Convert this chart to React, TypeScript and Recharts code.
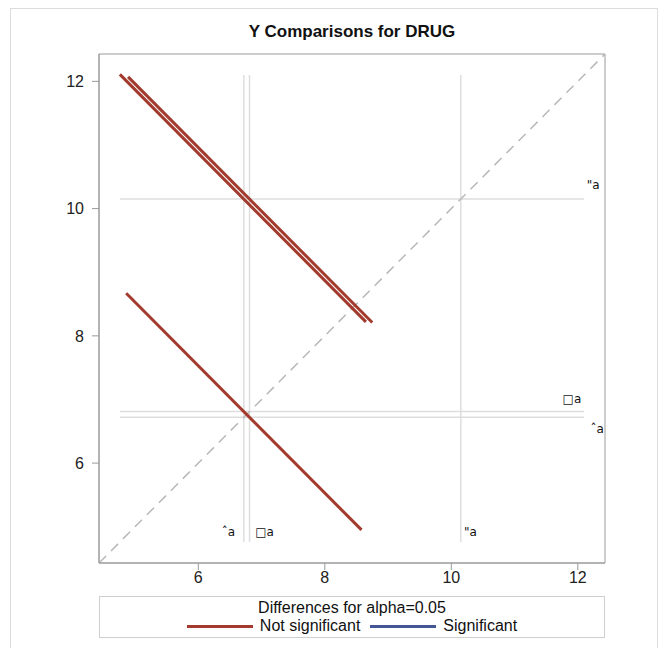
import React from "react";
import {
  ComposedChart,
  Line,
  Scatter,
  XAxis,
  YAxis,
  ReferenceLine,
  ReferenceArea,
} from "recharts";

// Diffogram of DRUG means: axes share the same range
const AXIS_MIN = 4.43;
const AXIS_MAX = 12.43;
const TICKS = [6, 8, 10, 12];

// LS-means of the DRUG levels (reference lines in both directions)
const MEANS = [6.72, 6.81, 10.15];
const REF_LO = 4.76;
const REF_HI = 12.1;

// pairwise comparison segments (slope -1), endpoints
const SEG_A = [
  { x: 4.76, y: 12.11 },
  { x: 8.65, y: 8.22 },
];
const SEG_B = [
  { x: 4.89, y: 12.07 },
  { x: 8.75, y: 8.21 },
];
const SEG_C = [
  { x: 4.86, y: 8.67 },
  { x: 8.58, y: 4.95 },
];
const DIAG = [
  { x: AXIS_MIN, y: AXIS_MIN },
  { x: AXIS_MAX, y: AXIS_MAX },
];

// level labels (the symbols SAS printed for each mean)
const MEAN_LABELS = [
  { x: 6.37, y: 4.85, text: "ˆa" },
  { x: 6.9, y: 4.85, text: "□a" },
  { x: 10.2, y: 4.85, text: '"a' },
  { x: 12.14, y: 10.31, text: '"a' },
  { x: 11.76, y: 6.94, text: "□a" },
  { x: 12.2, y: 6.47, text: "ˆa" },
];

const RED = "#A23A2E";
const BLUE = "#445694";
const FRAME = "#9a9a9a";
const REF = "#dedede";
const FONT = "'Liberation Sans', Arial, sans-serif";

const tick = { fill: "#222", fontSize: 16, fontFamily: FONT };

const LabelShape = (props: any) => (
  <text
    x={props.cx}
    y={props.cy}
    fontSize={12}
    fontFamily="'DejaVu Sans', sans-serif"
    fill="#111"
  >
    {props.payload.text}
  </text>
);

export default function App() {
  return (
    <div
      style={{
        position: "absolute",
        left: 0,
        top: 0,
        width: 660,
        height: 648,
        background: "#fff",
        overflow: "hidden",
        fontFamily: FONT,
      }}
    >
      <div
        style={{
          position: "absolute",
          left: 10,
          top: 8,
          width: 648,
          height: 660,
          border: "1px solid #dcdcdc",
          boxSizing: "border-box",
        }}
      />
      <div
        style={{
          position: "absolute",
          left: 99,
          width: 506,
          top: 22,
          textAlign: "center",
          fontSize: 17,
          fontWeight: 700,
          color: "#111",
        }}
      >
        Y Comparisons for DRUG
      </div>
      <div style={{ position: "absolute", left: 0, top: 0 }}>
        <ComposedChart
          width={660}
          height={648}
          margin={{ top: 54, right: 55, left: 39, bottom: 55 }}
        >
          <XAxis
            dataKey="x"
            type="number"
            domain={[AXIS_MIN, AXIS_MAX]}
            ticks={TICKS}
            allowDataOverflow
            height={30}
            tick={tick}
            tickSize={7}
            tickMargin={2}
            axisLine={{ stroke: FRAME }}
            tickLine={{ stroke: FRAME }}
          />
          <YAxis
            type="number"
            domain={[AXIS_MIN, AXIS_MAX]}
            ticks={TICKS}
            allowDataOverflow
            width={60}
            tick={tick}
            tickSize={7}
            tickMargin={8}
            axisLine={{ stroke: FRAME }}
            tickLine={{ stroke: FRAME }}
          />
          <ReferenceArea
            x1={AXIS_MIN}
            x2={AXIS_MAX}
            y1={AXIS_MIN}
            y2={AXIS_MAX}
            fill="none"
            stroke={FRAME}
            strokeWidth={1}
          />
          {MEANS.map((m) => (
            <ReferenceLine
              key={`v${m}`}
              segment={[
                { x: m, y: REF_LO },
                { x: m, y: REF_HI },
              ]}
              stroke={REF}
              strokeWidth={1.5}
            />
          ))}
          {MEANS.map((m) => (
            <ReferenceLine
              key={`h${m}`}
              segment={[
                { x: REF_LO, y: m },
                { x: REF_HI, y: m },
              ]}
              stroke={REF}
              strokeWidth={1.5}
            />
          ))}
          <Line
            data={DIAG}
            dataKey="y"
            type="linear"
            stroke="#b8b8b8"
            strokeWidth={1.5}
            strokeDasharray="10 7"
            dot={false}
            activeDot={false}
            isAnimationActive={false}
          />
          {[SEG_A, SEG_B, SEG_C].map((seg, i) => (
            <Line
              key={i}
              data={seg}
              dataKey="y"
              type="linear"
              stroke={RED}
              strokeWidth={3}
              dot={false}
              activeDot={false}
              isAnimationActive={false}
            />
          ))}
          <Scatter
            data={MEAN_LABELS}
            dataKey="y"
            shape={LabelShape}
            isAnimationActive={false}
          />
        </ComposedChart>
      </div>
      <div
        style={{
          position: "absolute",
          left: 99,
          top: 596,
          width: 506,
          height: 42,
          border: "1px solid #cfcfcf",
          boxSizing: "border-box",
          fontSize: 16,
          color: "#111",
          textAlign: "center",
        }}
      >
        <div style={{ marginTop: 1, lineHeight: "19px" }}>
          Differences for alpha=0.05
        </div>
        <div
          style={{
            display: "flex",
            justifyContent: "center",
            alignItems: "center",
            lineHeight: "18px",
          }}
        >
          <span
            style={{
              display: "inline-block",
              width: 66,
              height: 3,
              background: RED,
              marginRight: 7,
            }}
          />
          <span>Not significant</span>
          <span
            style={{
              display: "inline-block",
              width: 66,
              height: 3,
              background: BLUE,
              marginLeft: 10,
              marginRight: 7,
            }}
          />
          <span>Significant</span>
        </div>
      </div>
    </div>
  );
}
